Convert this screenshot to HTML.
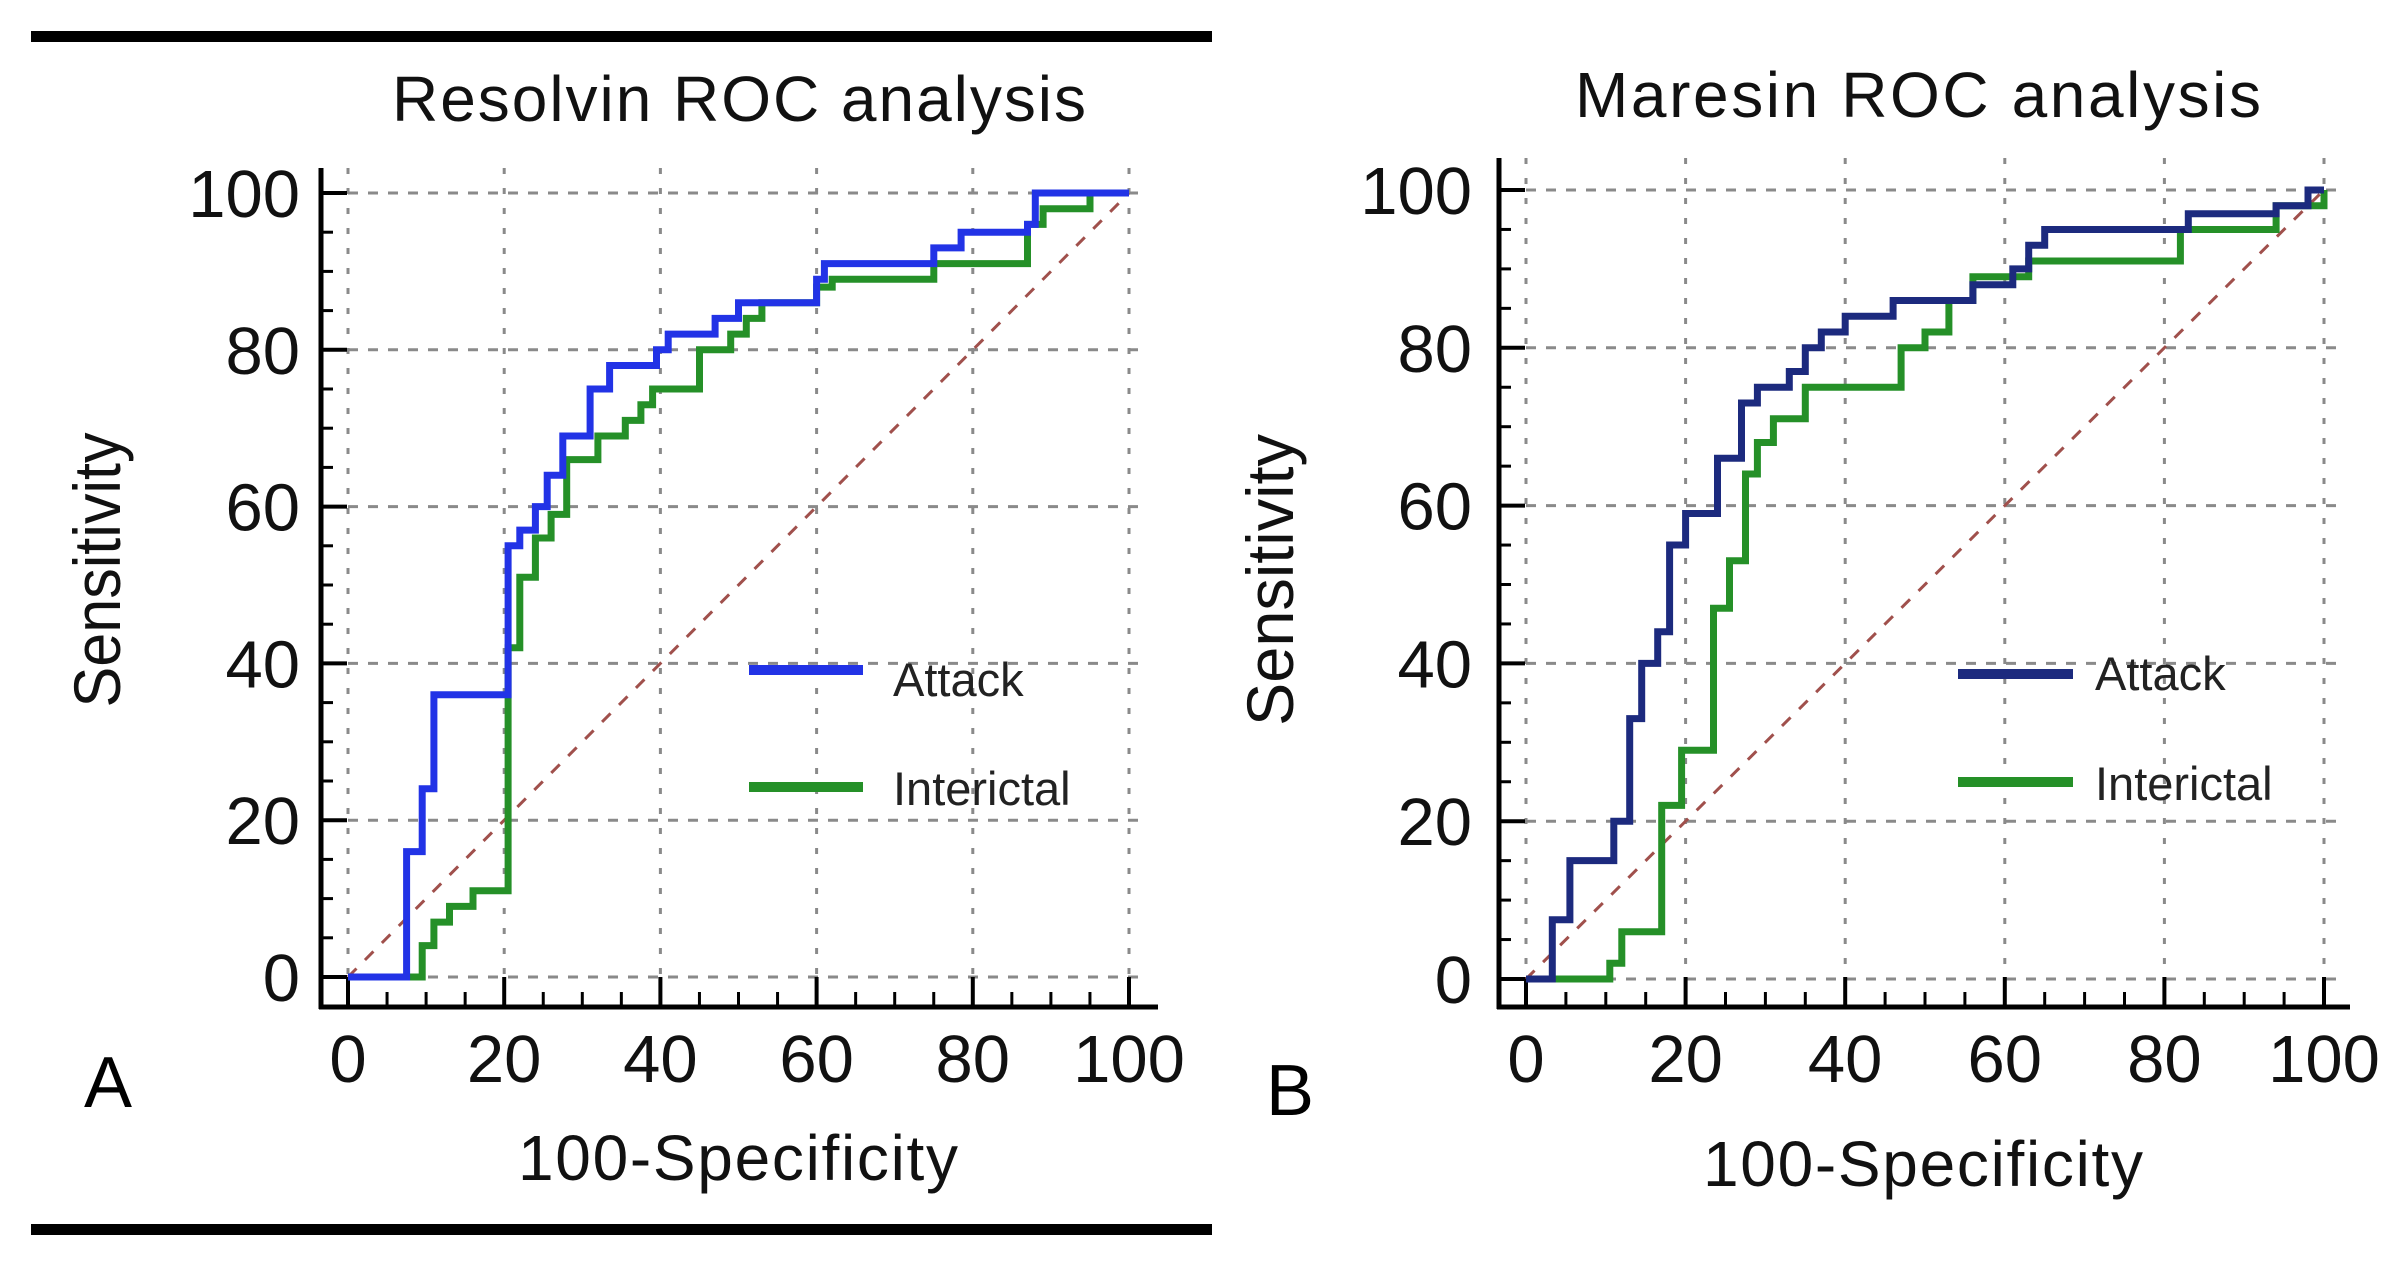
<!DOCTYPE html>
<html><head><meta charset="utf-8"><style>
html,body{margin:0;padding:0;background:#fff;}
svg{display:block;font-family:"Liberation Sans",Arial,sans-serif;}
</style></head><body>
<svg id="fig" width="2397" height="1262" viewBox="0 0 2397 1262" xmlns="http://www.w3.org/2000/svg">
<rect x="0" y="0" width="2397" height="1262" fill="#fff"/>
<rect x="31" y="31" width="1181" height="11" fill="#000"/>
<rect x="31" y="1224" width="1181" height="11" fill="#000"/>
<g id="panelA"></g>
<g id="panelB"></g>
</svg>
<script>
// Panel A: Resolvin
const aAttackX = [0,7.5,7.5,9.5,9.5,11,11,20.5,20.5,22,22,24,24,25.5,25.5,27.5,27.5,31,31,33.5,33.5,39.5,39.5,41,41,47,47,50,50,60,60,61,61,75,75,78.5,78.5,87,87,88,88,100];
const aAttackY = [0,0,16,16,24,24,36,36,55,55,57,57,60,60,64,64,69,69,75,75,78,78,80,80,82,82,84,84,86,86,89,89,91,91,93,93,95,95,96,96,100,100];
const aInterX = [0,9.5,9.5,11,11,13,13,16,16,20.5,20.5,22,22,24,24,26,26,28,28,32,32,35.5,35.5,37.5,37.5,39,39,45,45,49,49,51,51,53,53,60,60,62,62,75,75,87,87,89,89,95,95,100];
const aInterY = [0,0,4,4,7,7,9,9,11,11,42,42,51,51,56,56,59,59,66,66,69,69,71,71,73,73,75,75,80,80,82,82,84,84,86,86,88,88,89,89,91,91,96,96,98,98,100,100];
// Panel B: Maresin
const bAttackX = [0,3.3,3.3,5.5,5.5,11,11,13,13,14.5,14.5,16.5,16.5,18,18,20,20,24,24,27,27,29,29,33,33,35,35,37,37,40,40,46,46,56,56,61,61,63,63,65,65,83,83,94,94,98,98,100];
const bAttackY = [0,0,7.5,7.5,15,15,20,20,33,33,40,40,44,44,55,55,59,59,66,66,73,73,75,75,77,77,80,80,82,82,84,84,86,86,88,88,90,90,93,93,95,95,97,97,98,98,100,100];
const bInterX = [0,10.5,10.5,12,12,17,17,19.5,19.5,23.5,23.5,25.5,25.5,27.5,27.5,29,29,31,31,35,35,47,47,50,50,53,53,56,56,63,63,82,82,94,94,100,100];
const bInterY = [0,0,2,2,6,6,22,22,29,29,47,47,53,53,64,64,68,68,71,71,75,75,80,80,82,82,86,86,89,89,91,91,95,95,98,98,100];
const tickVals = [0,20,40,60,80,100];
const tickLabels = ["0","20","40","60","80","100"];

const NS = "http://www.w3.org/2000/svg";
function mk(parent, tag, attrs){const e=document.createElementNS(NS,tag);for(const k in attrs)e.setAttribute(k,attrs[k]);parent.appendChild(e);return e;}

function drawPanel(g, cfg){
  const sx = v => cfg.x0 + (cfg.x100-cfg.x0)*v/100;
  const sy = v => cfg.y0 + (cfg.y100-cfg.y0)*v/100;
  tickVals.forEach(v=>{
    const gl = mk(g,'line',{x1:sx(v),x2:sx(v),y1:cfg.axTop,y2:sy(0),stroke:'#8a8a8a','stroke-width':3,'stroke-dasharray':'6 14'});
    
    
    const hl = mk(g,'line',{x1:sx(0),x2:cfg.axRight-10,y1:sy(v),y2:sy(v),stroke:'#8a8a8a','stroke-width':3,'stroke-dasharray':'10 10'});
    
    
  });
  const ya = mk(g,'line',{x1:cfg.axLeft,x2:cfg.axLeft,y1:cfg.axTop,y2:cfg.axBottom+2,stroke:'#000','stroke-width':5});
  
  
  const xa = mk(g,'line',{x1:cfg.axLeft-2,x2:cfg.axRight,y1:cfg.axBottom,y2:cfg.axBottom,stroke:'#000','stroke-width':5});
  
  
  for(let v=0; v<=100; v+=5){
    const major = v%20===0;
    const tx = mk(g,'line',{x1:sx(v),x2:sx(v),y1:cfg.axBottom,y2:cfg.axBottom-(major?30:15),stroke:'#000','stroke-width':major?4:3});
    
    
    const ty = mk(g,'line',{x1:cfg.axLeft,x2:cfg.axLeft+(major?26:12),y1:sy(v),y2:sy(v),stroke:'#000','stroke-width':major?4:3});
    
    
  }
  tickVals.forEach((v,i)=>{
    const xt = mk(g,'text',{x:sx(v),y:cfg.xTickBase,'font-size':67,'text-anchor':'middle',fill:'#111'});
    xt.textContent = tickLabels[i];
    
    
    const yt = mk(g,'text',{x:cfg.yTickRight,y:sy(v)+24,'font-size':67,'text-anchor':'end',fill:'#111'});
    yt.textContent = tickLabels[i];
    
    
  });
  const dg = mk(g,'line',{x1:sx(0),y1:sy(0),x2:sx(100),y2:sy(100),stroke:'#a0504c','stroke-width':3,'stroke-dasharray':'12 12'});
  
  
  function series(xs, ys, color, name){
    const pts = xs.map((x,i)=>sx(x).toFixed(1)+','+sy(ys[i]).toFixed(1)).join(' ');
    const pl = mk(g,'polyline',{points:pts,fill:'none',stroke:color,'stroke-width':7,'stroke-linejoin':'miter'});
    
    
  }
  series(cfg.ix, cfg.iy, '#259028', 'interictal-curve');
  series(cfg.ax, cfg.ay, cfg.attackColor, 'attack-curve');
  const l1 = mk(g,'line',{x1:cfg.legX1,x2:cfg.legX2,y1:cfg.legY1,y2:cfg.legY1,stroke:cfg.attackColor,'stroke-width':10});
  
  
  const t1 = mk(g,'text',{x:cfg.legTX,y:cfg.legY1+cfg.legOff1,'font-size':47,fill:'#222'});
  t1.textContent='Attack';
  
  
  const l2 = mk(g,'line',{x1:cfg.legX1,x2:cfg.legX2,y1:cfg.legY2,y2:cfg.legY2,stroke:'#259028','stroke-width':10});
  
  
  const t2 = mk(g,'text',{x:cfg.legTX,y:cfg.legY2+18,'font-size':47,fill:'#222'});
  t2.textContent='Interictal';
  
  
  const tt = mk(g,'text',{x:cfg.titleX,y:cfg.titleBase,'font-size':64,fill:'#111',textLength:cfg.titleW,lengthAdjust:'spacing'});
  tt.textContent = cfg.title;
  
  
  const xl = mk(g,'text',{x:cfg.xlX,y:cfg.xlBase,'font-size':64,fill:'#111',textLength:cfg.xlW,lengthAdjust:'spacing'});
  xl.textContent='100-Specificity';
  
  
  const yl = mk(g,'text',{x:0,y:0,'font-size':66,fill:'#111','text-anchor':'middle',transform:'translate('+cfg.ylBase+','+cfg.ylCy+') rotate(-90)',textLength:cfg.ylW,lengthAdjust:'spacingAndGlyphs'});
  yl.textContent='Sensitivity';
  
  
  const pl = mk(g,'text',{x:cfg.letterX,y:cfg.letterBase,'font-size':72,fill:'#000'});
  pl.textContent=cfg.letter;
  
  
}

drawPanel(document.getElementById('panelA'),{
  x0:348,x100:1129,y0:977,y100:193,axLeft:321,axRight:1158,axTop:168,axBottom:1007,
  xTickBase:1082,yTickRight:300,attackColor:'#2233e6',
  ax:aAttackX,ay:aAttackY,ix:aInterX,iy:aInterY,
  legX1:749,legX2:863,legY1:670,legY2:787,legTX:893,legOff1:26,
  title:'Resolvin ROC analysis',titleX:392,titleBase:121,titleW:694,
  xlX:518,xlBase:1180,xlW:440,ylBase:120,ylCy:570,ylW:275,letter:'A',letterX:84,letterBase:1107
});
drawPanel(document.getElementById('panelB'),{
  x0:1526,x100:2324,y0:979,y100:190,axLeft:1499,axRight:2350,axTop:158,axBottom:1007,
  xTickBase:1082,yTickRight:1472,attackColor:'#1c2a7e',
  ax:bAttackX,ay:bAttackY,ix:bInterX,iy:bInterY,
  legX1:1958,legX2:2073,legY1:674,legY2:782,legTX:2095,legOff1:16,
  title:'Maresin ROC analysis',titleX:1575,titleBase:117,titleW:686,
  xlX:1703,xlBase:1186,xlW:440,ylBase:1293,ylCy:580,ylW:292,letter:'B',letterX:1266,letterBase:1115
});
</script>
</body></html>
